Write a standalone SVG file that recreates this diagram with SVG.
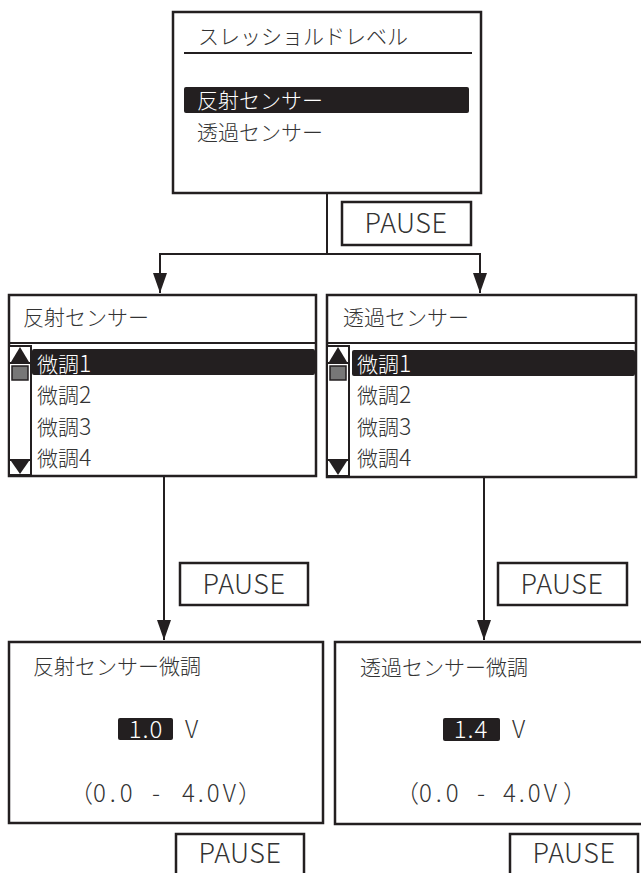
<svg xmlns="http://www.w3.org/2000/svg" width="641" height="873" viewBox="0 0 641 873">
<style>
.box{fill:#fff;stroke:#231f20;stroke-width:2.5}
.pb{fill:#fff;stroke:#231f20;stroke-width:2.5}
.ln{fill:none;stroke:#231f20;stroke-width:2}
.t{font-family:"Noto Sans CJK JP Light","Noto Sans CJK JP DemiLight","Noto Sans CJK JP","Noto Sans",sans-serif;font-size:21px;font-weight:300;fill:#333}
.w{fill:#fff}
.d{font-size:23px}
.d2{font-size:24px}
.p{font-family:"Noto Sans CJK JP Light","Noto Sans CJK JP DemiLight","Noto Sans CJK JP","Noto Sans",sans-serif;font-size:27px;font-weight:300;fill:#333;text-anchor:middle;letter-spacing:0.5px}
.hl{fill:#231f20}
.sb{fill:#fff;stroke:#231f20;stroke-width:2}
.tri{fill:#231f20}
.thumb{fill:#777;stroke:#231f20;stroke-width:1.5}
</style>
<defs>
<marker id="arr" viewBox="0 0 20 14" refX="20" refY="7" markerWidth="20" markerHeight="14" markerUnits="userSpaceOnUse" orient="auto">
<path d="M0,0 L20,7 L0,14 z" fill="#231f20"/>
</marker>
</defs>
<g id="connectors">
<path class="ln" d="M327,193 V254"/>
<path class="ln" d="M327,254 H160 V293" marker-end="url(#arr)"/>
<path class="ln" d="M327,254 H480 V293" marker-end="url(#arr)"/>
<path class="ln" d="M164,476 V640" marker-end="url(#arr)"/>
<path class="ln" d="M484,477 V640" marker-end="url(#arr)"/>
</g>
<g id="menu-threshold">
<rect class="box" x="173" y="12" width="308" height="181"/>
<text class="t" x="198" y="44">スレッショルドレベル</text>
<line class="ln" x1="184" y1="53" x2="472" y2="53" stroke-width="2.5"/>
<rect class="hl" x="184" y="87" width="285" height="26" rx="2"/>
<text class="t w" x="197" y="108">反射センサー</text>
<text class="t" x="197" y="140">透過センサー</text>
</g>
<g id="pause-1">
<rect class="pb" x="342" y="202" width="129" height="43"/>
<text class="p" x="406" y="233">PAUSE</text>
</g>
<g id="menu-reflect">
<rect class="box" x="9" y="295" width="307" height="181"/>
<text class="t" x="23" y="325">反射センサー</text>
<line class="ln" x1="9" y1="343" x2="316" y2="343" stroke-width="2.5"/>
<rect class="sb" x="9" y="346" width="22" height="129"/>
<path class="tri" d="M11,362 L20,347 L29,362 z"/>
<line class="ln" x1="9" y1="363" x2="31" y2="363" stroke-width="1.5"/>
<rect class="thumb" x="12" y="366" width="16" height="14"/>
<line class="ln" x1="9" y1="460" x2="31" y2="460" stroke-width="1.5"/>
<path class="tri" d="M11,461 L20,474 L29,461 z"/>
<rect class="hl" x="32" y="349" width="283" height="26" rx="2"/>
<text class="t w" x="37" y="372">微調<tspan class="d">1</tspan></text>
<text class="t" x="37" y="403">微調<tspan class="d">2</tspan></text>
<text class="t" x="37" y="435">微調<tspan class="d">3</tspan></text>
<text class="t" x="37" y="466">微調<tspan class="d">4</tspan></text>
</g>
<g id="menu-transmit">
<rect class="box" x="327" y="295" width="309" height="182"/>
<text class="t" x="343" y="325">透過センサー</text>
<line class="ln" x1="327" y1="343" x2="636" y2="343" stroke-width="2.5"/>
<rect class="sb" x="327" y="346" width="22" height="130"/>
<path class="tri" d="M329,362 L338,347 L347,362 z"/>
<line class="ln" x1="327" y1="363" x2="349" y2="363" stroke-width="1.5"/>
<rect class="thumb" x="330" y="366" width="16" height="14"/>
<line class="ln" x1="327" y1="460" x2="349" y2="460" stroke-width="1.5"/>
<path class="tri" d="M329,461 L338,475 L347,461 z"/>
<rect class="hl" x="352" y="350" width="283" height="26" rx="2"/>
<text class="t w" x="357" y="372">微調<tspan class="d">1</tspan></text>
<text class="t" x="357" y="403">微調<tspan class="d">2</tspan></text>
<text class="t" x="357" y="435">微調<tspan class="d">3</tspan></text>
<text class="t" x="357" y="466">微調<tspan class="d">4</tspan></text>
</g>
<g id="pause-2">
<rect class="pb" x="180" y="563" width="128" height="42"/>
<text class="p" x="244" y="594">PAUSE</text>
</g>
<g id="pause-3">
<rect class="pb" x="498" y="563" width="129" height="42"/>
<text class="p" x="562" y="594">PAUSE</text>
</g>
<g id="adjust-reflect">
<rect class="box" x="9" y="642" width="314" height="181"/>
<text class="t" x="33" y="674">反射センサー微調</text>
<rect class="hl" x="118" y="718" width="55" height="22" rx="2"/>
<text class="t w d2" x="146" y="738" text-anchor="middle" letter-spacing="1">1.0</text>
<text class="t d2" x="185" y="738">V</text>
<text class="t d2" y="802"><tspan x="69">（</tspan><tspan x="93" letter-spacing="4">0.0</tspan><tspan x="152">-</tspan><tspan x="182" letter-spacing="3">4.0V</tspan><tspan x="238">）</tspan></text>
</g>
<g id="adjust-transmit">
<rect class="box" x="335" y="642" width="330" height="182"/>
<text class="t" x="360" y="675">透過センサー微調</text>
<rect class="hl" x="443" y="718" width="57" height="23" rx="2"/>
<text class="t w d2" x="471" y="738" text-anchor="middle" letter-spacing="1">1.4</text>
<text class="t d2" x="512" y="738">V</text>
<text class="t d2" y="802"><tspan x="395">（</tspan><tspan x="419" letter-spacing="4">0.0</tspan><tspan x="477">-</tspan><tspan x="503" letter-spacing="3">4.0V</tspan><tspan x="563">）</tspan></text>
</g>
<g id="pause-4">
<rect class="pb" x="176" y="834" width="128" height="60"/>
<text class="p" x="240" y="863">PAUSE</text>
</g>
<g id="pause-5">
<rect class="pb" x="510" y="834" width="128" height="60"/>
<text class="p" x="574" y="863">PAUSE</text>
</g>
</svg>
